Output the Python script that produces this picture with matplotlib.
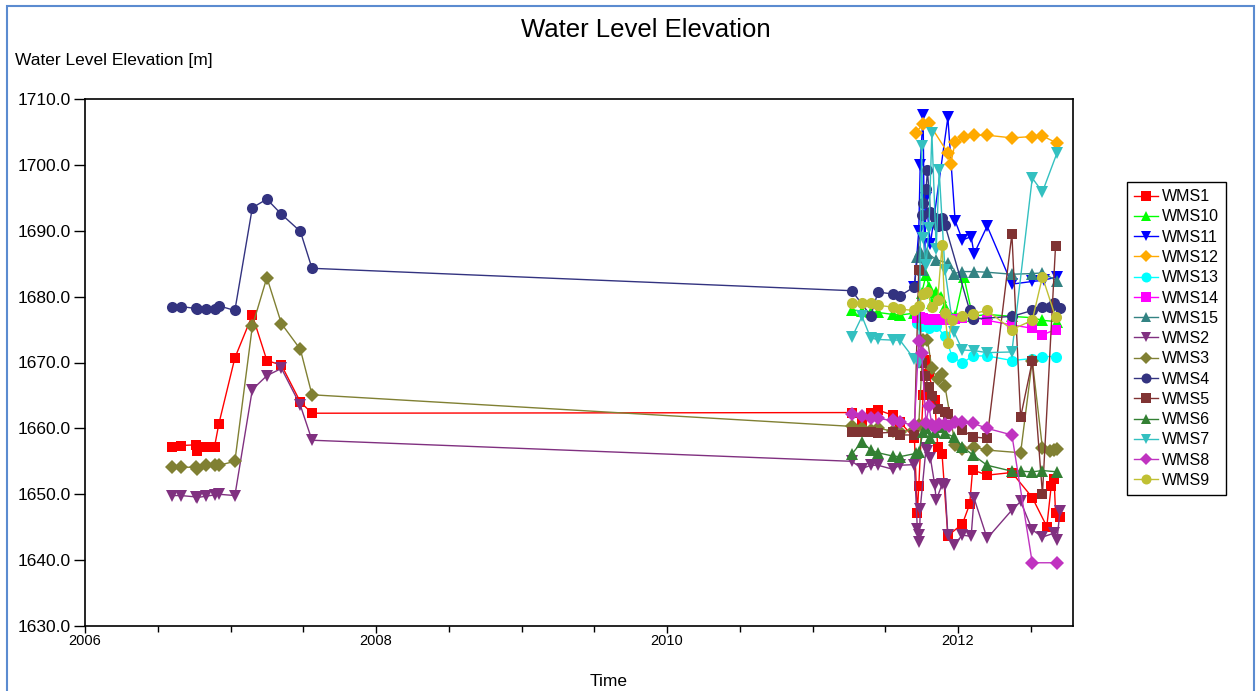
import matplotlib
matplotlib.use('Agg')
import matplotlib.pyplot as plt
from matplotlib.ticker import MultipleLocator, FormatStrFormatter
from matplotlib.patches import Rectangle

plt.rcParams['font.family'] = ['Liberation Sans', 'DejaVu Sans']

# sampling dates (decimal years) of the 2006-2007 campaign
early_t = [2006.60, 2006.66, 2006.76, 2006.77, 2006.83, 2006.89, 2006.92,
           2007.03, 2007.15, 2007.25, 2007.35, 2007.48, 2007.56]

wms1_t = early_t + [2011.27, 2011.34, 2011.40, 2011.45, 2011.55, 2011.60, 2011.70, 2011.72, 2011.73,
                    2011.76, 2011.78, 2011.80, 2011.84, 2011.86, 2011.89, 2011.93, 2012.03, 2012.08,
                    2012.10, 2012.20, 2012.37, 2012.51, 2012.61, 2012.64, 2012.66, 2012.67, 2012.70]
wms1_v = [1657.2, 1657.4, 1657.5, 1656.5, 1657.2, 1657.2, 1660.7, 1670.7, 1677.2, 1670.3, 1669.6, 1664.0, 1662.3,
          1662.4, 1661.0, 1662.3, 1662.8, 1662.0, 1661.0, 1658.5, 1647.1, 1651.2, 1665.0, 1670.4, 1668.3,
          1664.3, 1657.2, 1656.1, 1643.7, 1645.5, 1648.5, 1653.7, 1652.9, 1653.3, 1649.5, 1645.1, 1651.2,
          1652.3, 1647.2, 1646.6]

wms10_t = [2011.27, 2011.34, 2011.40, 2011.45, 2011.55, 2011.60, 2011.70, 2011.75, 2011.78, 2011.80, 2011.82,
           2011.85, 2011.88, 2011.91, 2011.98, 2012.04, 2012.10, 2012.20, 2012.37, 2012.51, 2012.58, 2012.68]
wms10_v = [1678.0, 1677.8, 1677.7, 1677.6, 1677.3, 1677.2, 1677.5, 1680.5, 1683.3, 1681.5, 1679.0,
           1680.7, 1680.0, 1678.5, 1677.0, 1683.0, 1677.0, 1677.3, 1677.0, 1676.8, 1676.4, 1676.2]

wms11_t = [2011.70, 2011.73, 2011.74, 2011.76, 2011.77, 2011.78, 2011.81, 2011.93, 2011.98, 2012.03, 2012.09,
           2012.11, 2012.20, 2012.37, 2012.51, 2012.59, 2012.68]
wms11_v = [1681.5, 1690.0, 1700.0, 1707.6, 1685.0, 1695.0, 1688.0, 1707.2, 1691.5, 1688.6, 1689.1,
           1686.5, 1690.7, 1681.9, 1682.3, 1682.5, 1683.0]

wms12_t = [2011.71, 2011.76, 2011.80, 2011.93, 2011.95, 2011.98, 2012.04, 2012.11, 2012.20, 2012.37, 2012.51,
           2012.58, 2012.68]
wms12_v = [1704.9, 1706.2, 1706.3, 1701.8, 1700.2, 1703.4, 1704.2, 1704.5, 1704.5, 1704.1, 1704.3,
           1704.4, 1703.3]

wms13_t = [2011.72, 2011.75, 2011.78, 2011.80, 2011.85, 2011.91, 2011.96, 2012.03, 2012.10, 2012.20, 2012.37,
           2012.51, 2012.58, 2012.67]
wms13_v = [1676.0, 1675.5, 1676.0, 1675.2, 1675.5, 1674.0, 1670.9, 1669.9, 1671.0, 1671.0, 1670.3,
           1670.6, 1670.9, 1670.9]

wms14_t = [2011.72, 2011.74, 2011.76, 2011.78, 2011.80, 2011.83, 2011.86, 2011.89, 2011.91, 2011.94, 2011.98,
           2012.03, 2012.11, 2012.20, 2012.37, 2012.51, 2012.58, 2012.67]
wms14_v = [1676.7, 1676.9, 1676.8, 1676.6, 1676.5, 1676.6, 1676.5, 1676.6, 1676.4, 1676.5, 1676.6,
           1676.7, 1676.9, 1676.4, 1675.7, 1675.2, 1674.2, 1675.0]

wms15_t = [2011.72, 2011.74, 2011.76, 2011.79, 2011.85, 2011.93, 2011.97, 2012.03, 2012.11, 2012.20, 2012.37,
           2012.51, 2012.58, 2012.68]
wms15_v = [1686.0, 1687.0, 1684.0, 1686.6, 1685.6, 1685.1, 1683.5, 1683.8, 1683.8, 1683.7, 1683.4,
           1683.5, 1683.6, 1682.4]

wms2_t = early_t + [2011.27, 2011.34, 2011.40, 2011.45, 2011.55, 2011.60, 2011.70, 2011.72, 2011.73, 2011.735,
                    2011.74, 2011.78, 2011.79, 2011.81, 2011.84, 2011.85, 2011.89, 2011.91, 2011.93, 2011.97,
                    2012.03, 2012.09, 2012.11, 2012.20, 2012.37, 2012.43, 2012.51, 2012.58, 2012.66, 2012.68,
                    2012.70]
wms2_v = [1649.8, 1649.8, 1649.6, 1649.5, 1649.7, 1649.9, 1650.0, 1649.8, 1665.9, 1668.0, 1669.1, 1663.5, 1658.2,
          1655.0, 1653.9, 1654.4, 1654.4, 1653.8, 1654.4, 1654.5, 1644.8, 1643.8, 1642.7,
          1647.8, 1657.0, 1656.5, 1655.5, 1651.4, 1649.1, 1651.5, 1651.4, 1643.8, 1642.3,
          1643.8, 1643.6, 1649.4, 1643.3, 1647.6, 1648.9, 1644.6, 1643.5, 1644.1, 1643.0,
          1647.4]

wms3_t = early_t + [2011.27, 2011.34, 2011.40, 2011.45, 2011.55, 2011.60, 2011.70, 2011.73, 2011.76, 2011.79,
                    2011.82, 2011.86, 2011.89, 2011.91, 2011.98, 2012.03, 2012.11, 2012.20, 2012.43, 2012.51,
                    2012.58, 2012.63, 2012.66, 2012.68]
wms3_v = [1654.1, 1654.1, 1654.1, 1653.8, 1654.5, 1654.5, 1654.4, 1655.0, 1675.5, 1682.9, 1675.9, 1672.0, 1665.1,
          1660.3, 1660.0, 1659.8, 1660.0, 1659.6, 1659.5, 1659.8, 1660.5, 1673.4, 1673.4,
          1669.1, 1667.5, 1668.3, 1666.4, 1657.5, 1656.8, 1657.2, 1656.7, 1656.3, 1670.3,
          1657.0, 1656.6, 1656.7, 1656.8]

wms4_t = early_t + [2011.27, 2011.40, 2011.45, 2011.55, 2011.60, 2011.70, 2011.75, 2011.76, 2011.78, 2011.79,
                    2011.81, 2011.84, 2011.86, 2011.89, 2011.91, 2012.08, 2012.10, 2012.37, 2012.51, 2012.58,
                    2012.63, 2012.66, 2012.70]
wms4_v = [1678.5, 1678.5, 1678.2, 1678.1, 1678.1, 1678.1, 1678.6, 1677.9, 1693.5, 1694.8, 1692.5, 1689.9, 1684.3,
          1680.9, 1677.1, 1680.7, 1680.4, 1680.1, 1681.5, 1692.4, 1694.2, 1696.3, 1699.2,
          1692.8, 1692.0, 1690.7, 1692.0, 1690.9, 1677.9, 1676.6, 1677.0, 1677.9, 1678.4,
          1678.4, 1679.1, 1678.2]

wms5_t = [2011.27, 2011.34, 2011.40, 2011.45, 2011.55, 2011.60, 2011.70, 2011.73, 2011.75, 2011.77, 2011.80,
          2011.82, 2011.86, 2011.91, 2011.93, 2012.03, 2012.10, 2012.20, 2012.37, 2012.43, 2012.51, 2012.58,
          2012.67]
wms5_v = [1659.5, 1659.4, 1659.4, 1659.3, 1659.4, 1659.0, 1659.0, 1684.1, 1670.0, 1668.0, 1666.3,
          1664.9, 1663.0, 1662.5, 1662.2, 1659.8, 1658.7, 1658.5, 1689.5, 1661.7, 1670.2, 1650.0,
          1687.7]

wms6_t = [2011.27, 2011.34, 2011.40, 2011.45, 2011.55, 2011.60, 2011.71, 2011.73, 2011.76, 2011.78, 2011.81,
          2011.84, 2011.88, 2011.91, 2011.97, 2012.03, 2012.10, 2012.20, 2012.37, 2012.43, 2012.51, 2012.58,
          2012.68]
wms6_v = [1656.1, 1658.0, 1656.7, 1656.3, 1655.8, 1655.7, 1656.2, 1656.4, 1659.5, 1660.0, 1658.5,
          1659.5, 1660.2, 1659.3, 1658.7, 1657.2, 1656.0, 1654.4, 1653.5, 1653.5, 1653.4, 1653.6,
          1653.4]

wms7_t = [2011.27, 2011.34, 2011.40, 2011.45, 2011.55, 2011.60, 2011.70, 2011.73, 2011.75, 2011.76, 2011.78,
          2011.80, 2011.82, 2011.85, 2011.87, 2011.91, 2011.97, 2012.03, 2012.11, 2012.20, 2012.37, 2012.51,
          2012.58, 2012.68]
wms7_v = [1673.8, 1677.0, 1673.7, 1673.5, 1673.4, 1673.4, 1670.5, 1669.9, 1702.8, 1688.9, 1684.8,
          1690.4, 1704.9, 1687.2, 1699.2, 1684.0, 1674.7, 1671.9, 1671.8, 1671.5, 1671.6, 1698.0,
          1695.9, 1701.8]

wms8_t = [2011.27, 2011.34, 2011.40, 2011.45, 2011.55, 2011.60, 2011.70, 2011.73, 2011.75, 2011.78, 2011.80,
          2011.82, 2011.84, 2011.87, 2011.91, 2011.94, 2011.98, 2012.03, 2012.10, 2012.20, 2012.37, 2012.51,
          2012.68]
wms8_v = [1662.2, 1661.9, 1661.5, 1661.5, 1661.2, 1660.9, 1660.5, 1673.2, 1671.4, 1660.8, 1663.4,
          1660.5, 1660.2, 1660.6, 1660.7, 1660.4, 1660.9, 1660.9, 1660.8, 1660.0, 1659.0, 1639.6,
          1639.6]

wms9_t = [2011.27, 2011.34, 2011.40, 2011.45, 2011.55, 2011.60, 2011.70, 2011.73, 2011.76, 2011.79, 2011.82,
          2011.86, 2011.89, 2011.91, 2011.93, 2011.96, 2012.03, 2012.10, 2012.20, 2012.37, 2012.51, 2012.58,
          2012.67]
wms9_v = [1679.1, 1679.0, 1679.0, 1678.7, 1678.4, 1678.1, 1677.9, 1678.6, 1680.4, 1680.7, 1678.4,
          1679.5, 1687.8, 1677.5, 1673.0, 1676.5, 1677.1, 1677.4, 1677.9, 1675.0, 1676.4, 1683.0,
          1676.9]

# name, times, values, colour, marker, marker size
series = [
    ('WMS1', wms1_t, wms1_v, '#ff0000', 's', 7.5),
    ('WMS10', wms10_t, wms10_v, '#00ff00', '^', 8.5),
    ('WMS11', wms11_t, wms11_v, '#0000ff', 'v', 8.5),
    ('WMS12', wms12_t, wms12_v, '#ffaa00', 'D', 7),
    ('WMS13', wms13_t, wms13_v, '#00ffff', 'o', 8),
    ('WMS14', wms14_t, wms14_v, '#ff00ff', 's', 7.5),
    ('WMS15', wms15_t, wms15_v, '#338383', '^', 8.5),
    ('WMS2', wms2_t, wms2_v, '#803080', 'v', 8.5),
    ('WMS3', wms3_t, wms3_v, '#808033', 'D', 7),
    ('WMS4', wms4_t, wms4_v, '#333380', 'o', 8),
    ('WMS5', wms5_t, wms5_v, '#803333', 's', 7.5),
    ('WMS6', wms6_t, wms6_v, '#338033', '^', 8.5),
    ('WMS7', wms7_t, wms7_v, '#33c0c0', 'v', 8.5),
    ('WMS8', wms8_t, wms8_v, '#c033c0', 'D', 7),
    ('WMS9', wms9_t, wms9_v, '#c0c033', 'o', 8),
]

W, H = 1257, 691
fig = plt.figure(figsize=(W / 100, H / 100), dpi=100)
ax = fig.add_axes([85 / W, 1 - 626 / H, 988 / W, 527 / H])

for name, t, v, col, mk, ms in series:
    ax.plot(t, v, color=col, marker=mk, markersize=ms, markeredgewidth=0,
            linewidth=1, label=name)

ax.set_xlim(2006, 2012.79)
ax.set_ylim(1630, 1710)
ax.yaxis.set_major_locator(MultipleLocator(10))
ax.yaxis.set_major_formatter(FormatStrFormatter('%.1f'))
ax.set_xticks([2006, 2008, 2010, 2012])
ax.set_xticklabels(['2006', '2008', '2010', '2012'])
ax.xaxis.set_minor_locator(MultipleLocator(0.5))
ax.tick_params(axis='y', direction='out', length=8, width=1, labelsize=12.5, pad=2)
ax.tick_params(axis='x', which='major', direction='out', length=5, width=1, labelsize=10.5, pad=1)
ax.tick_params(axis='x', which='minor', direction='out', length=4, width=1)
for sp in ax.spines.values():
    sp.set_linewidth(1.2)

fig.legend(loc='upper left', bbox_to_anchor=(1127 / W, 1 - 182 / H),
           fontsize=11.5, frameon=True, fancybox=False, edgecolor='black',
           framealpha=1, handlelength=1.5, handletextpad=0.25, labelspacing=0.33,
           borderpad=0.45, borderaxespad=0, markerscale=0.9)

fig.text(646 / W, 1 - 30 / H, 'Water Level Elevation', ha='center', va='center', fontsize=18.5)
fig.text(15 / W, 1 - 60 / H, 'Water Level Elevation [m]', ha='left', va='center', fontsize=12.5)
fig.text(609 / W, 1 - 682 / H, 'Time', ha='center', va='center', fontsize=12.5)

fig.patches.append(Rectangle((7 / W, -0.02), 1247 / W, 1.02 - 6 / H, transform=fig.transFigure,
                             fill=False, edgecolor='#5b8bd0', linewidth=1.5))

fig.savefig('out.png', dpi=100)
